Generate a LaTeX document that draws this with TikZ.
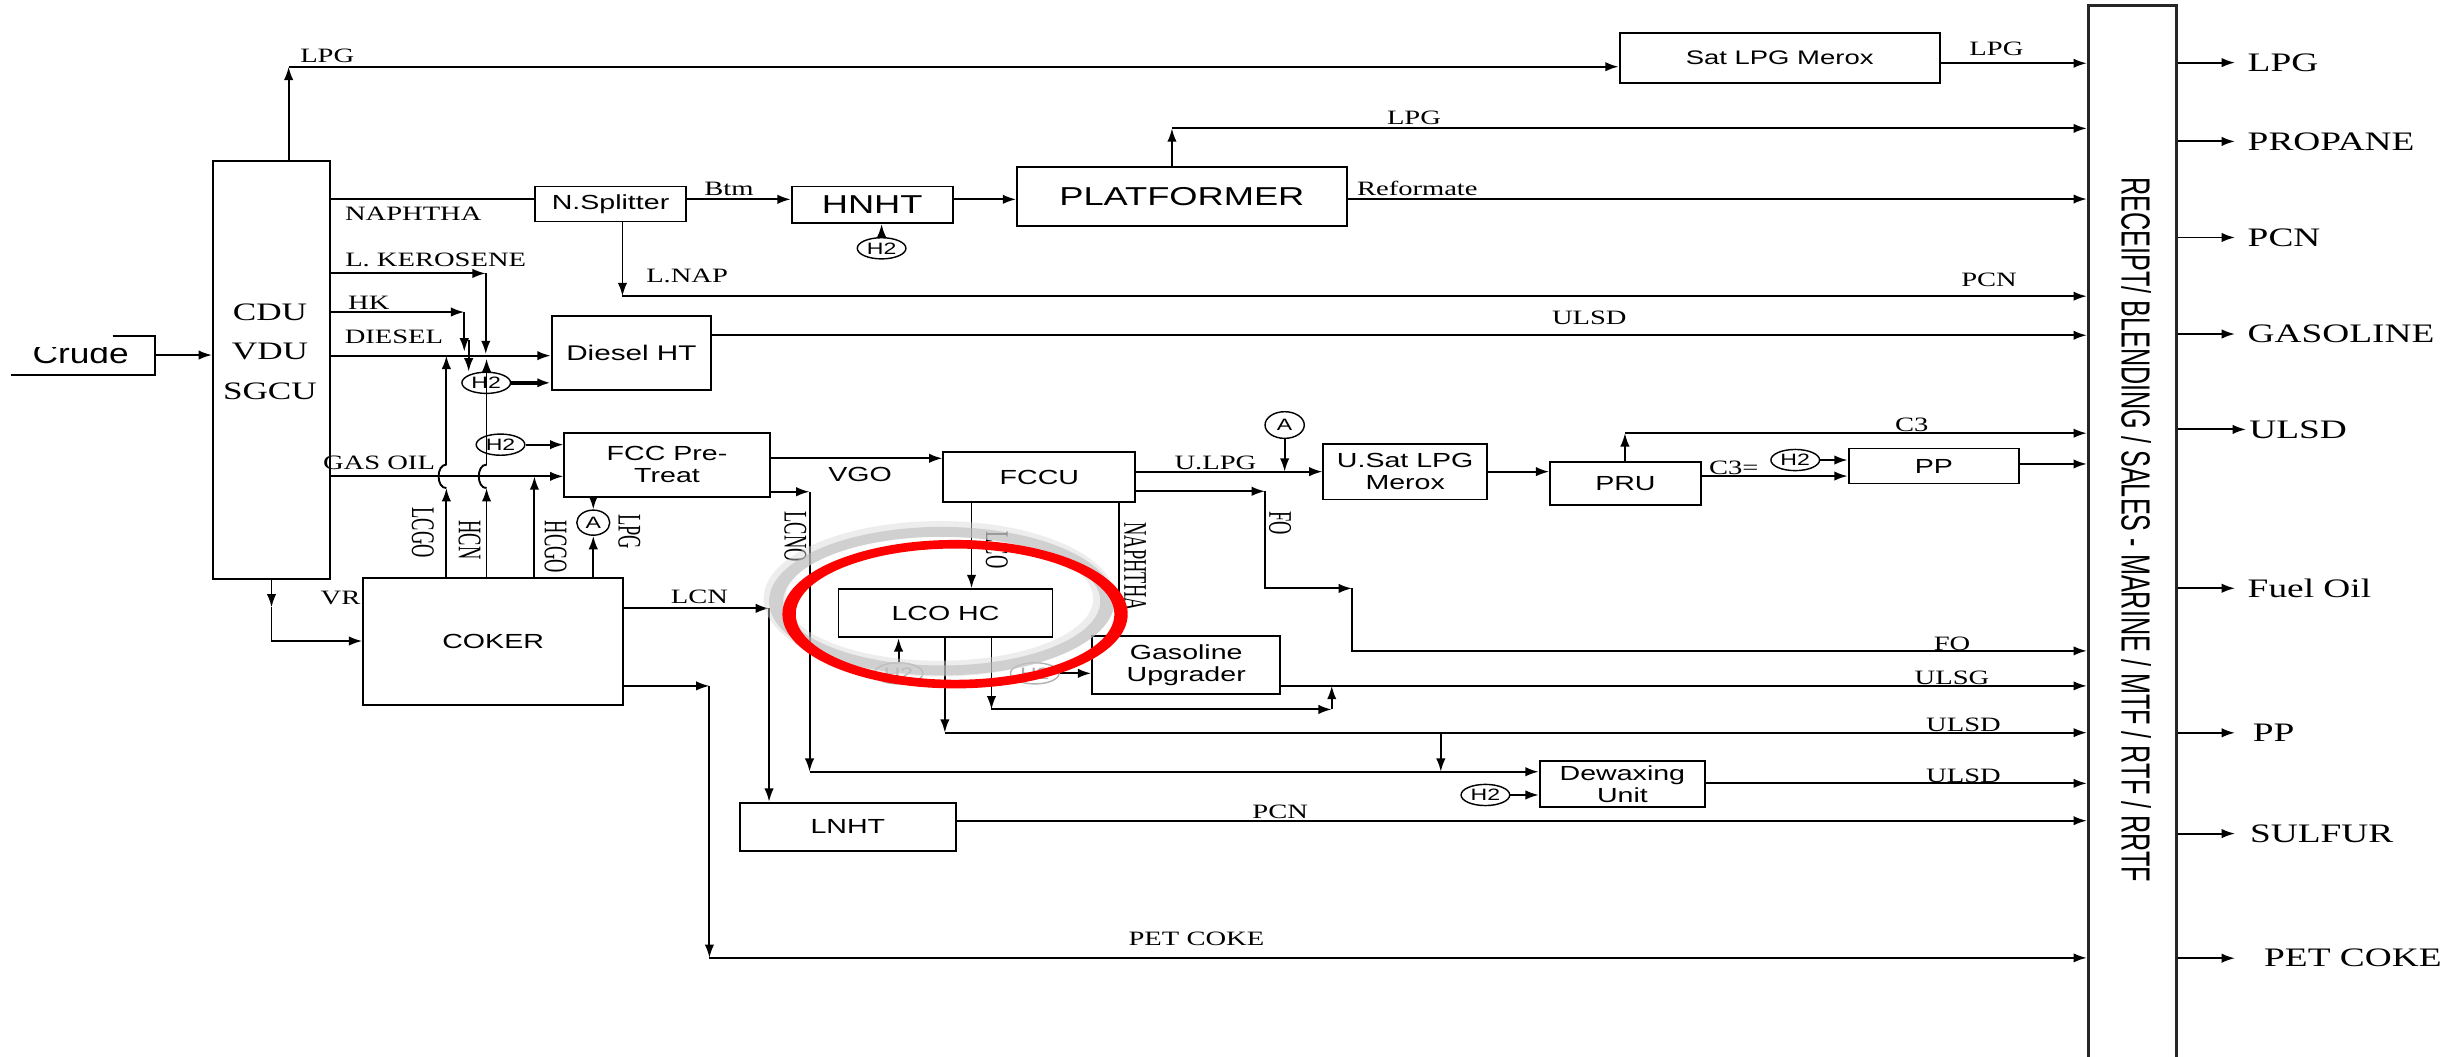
\documentclass[tikz,border=0pt]{standalone}
\usepackage{fontspec}
\usetikzlibrary{arrows.meta,shapes.geometric}
\newfontfamily\labf[FakeStretch=1.4]{Liberation Serif}
\newfontfamily\unitf[FakeStretch=1.4]{Liberation Sans}
\newfontfamily\rotf[FakeStretch=0.56]{Liberation Serif}
\newfontfamily\recf[FakeStretch=0.62]{Liberation Sans}
\newfontfamily\crudef[FakeStretch=1.25]{Liberation Sans}
\tikzset{
  unitbox/.style={draw, line width=1.2pt, inner sep=0pt, align=center, font=\unitf\fontsize{13}{14}\selectfont},
  lab/.style={inner sep=0pt, font=\labf\fontsize{13}{15}\selectfont},
  labsf/.style={inner sep=0pt, font=\unitf\fontsize{13}{15}\selectfont},
  rotlab/.style={inner sep=0pt, rotate=-90, font=\rotf\fontsize{21}{23}\selectfont},
  outlab/.style={inner sep=0pt, anchor=west, font=\labf\fontsize{17}{19}\selectfont},
  htwo/.style={draw, ellipse, line width=0.9pt, minimum width=31pt, minimum height=13.5pt, inner sep=0pt, font=\unitf\fontsize{10.5}{12}\selectfont},
  acirc/.style={draw, ellipse, line width=0.9pt, minimum width=21pt, minimum height=16pt, inner sep=0pt, font=\unitf\fontsize{10.5}{12}\selectfont},
  arr/.style={-{Latex[length=8.5pt,width=6pt]}},
}
\begin{document}
\begin{tikzpicture}[x=1pt,y=-1pt,line width=1.2pt]
\useasboundingbox (0,0) rectangle (1568,673);
\fill[white] (0,0) rectangle (1568,673);

% ---------- receipt column ----------
\node[draw, line width=1.8pt, draw=black!85, minimum width=56pt, minimum height=690pt, inner sep=0pt] (rec) at (1358.5,348.4) {};
\node[rotate=-90, inner sep=0pt, font=\recf\fontsize{25.9}{28}\selectfont] (rect) at (1361,337.5) {RECEIPT/ BLENDING / SALES - MARINE / MTF / RTF / RRTF};

% ---------- unit boxes ----------
\node[unitbox, minimum width=74.7pt, minimum height=266.3pt] (cdu) at (173,235.5) {};
\node[lab, font=\labf\fontsize{16}{25}\selectfont, align=center] (cdut) at (172,224) {CDU\\VDU\\SGCU};
\node[unitbox, minimum width=204pt, minimum height=31.5pt, font=\unitf\fontsize{12.5}{14}\selectfont] (sat) at (1133.9,37) {Sat LPG Merox};
\node[unitbox, minimum width=96.5pt, minimum height=22.3pt] (nsp) at (389,130) {N.Splitter};
\node[unitbox, minimum width=102.6pt, minimum height=23.3pt, font=\unitf\fontsize{16.5}{18}\selectfont] (hnht) at (555.7,130.5) {HNHT};
\node[unitbox, minimum width=210pt, minimum height=37.5pt, font=\unitf\fontsize{16.5}{18}\selectfont] (plat) at (753,125.3) {PLATFORMER};
\node[unitbox, minimum width=101.7pt, minimum height=47.2pt, font=\unitf\fontsize{13.5}{15}\selectfont] (dht) at (402.3,224.9) {Diesel HT};
\node[unitbox, minimum width=130.9pt, minimum height=40.8pt] (fcc) at (425,296.1) {FCC Pre-\\Treat};
\node[unitbox, minimum width=165.6pt, minimum height=81.3pt] (coker) at (314.2,408.7) {COKER};
\node[unitbox, minimum width=122.3pt, minimum height=31.8pt] (fccu) at (662.2,304.1) {FCCU};
\node[unitbox, minimum width=136.3pt, minimum height=30.7pt] (lcohc) at (602.4,390.7) {LCO HC};
\node[unitbox, minimum width=119.9pt, minimum height=37.2pt] (gu) at (755.8,423.8) {Gasoline\\Upgrader};
\node[unitbox, minimum width=137.9pt, minimum height=30.8pt] (lnht) at (540.2,526.8) {LNHT};
\node[unitbox, minimum width=104.2pt, minimum height=35.3pt] (usat) at (895.3,300.6) {U.Sat LPG\\Merox};
\node[unitbox, minimum width=95.9pt, minimum height=27.6pt] (pru) at (1035.6,308) {PRU};
\node[unitbox, minimum width=108.6pt, minimum height=22.3pt] (pp) at (1232.1,296.9) {PP};
\node[unitbox, minimum width=105.4pt, minimum height=29.1pt] (dew) at (1033.7,499.5) {Dewaxing\\Unit};

% ---------- H2 and A bubbles ----------
\node[htwo] (h2a) at (561.7,158.2) {H2};
\node[htwo] (h2b) at (309.8,243.9) {H2};
\node[htwo] (h2c) at (318.9,283.3) {H2};
\node[htwo, draw=gray!60, text=gray!65] (h2d) at (572.5,429) {H2};
\node[htwo, draw=gray!60, text=gray!65] (h2e) at (659.3,429) {H2};
\node[htwo] (h2f) at (1143.8,293.1) {H2};
\node[htwo] (h2g) at (946.4,506.5) {H2};
\node[acirc] (a1) at (378,333) {A};
\node[acirc, minimum width=25pt, minimum height=17pt] (a2) at (818.5,270.8) {A};

% ---------- crude ----------
\coordinate (crudeR) at (98.6,226.2);
\draw (71.7,213.9) -- (98.6,213.9) -- (98.6,238.9) -- (7.3,238.9);
\begin{scope}
  \clip (0,221.3) rectangle (97,238);
  \node[inner sep=0pt, anchor=base, font=\crudef\fontsize{18}{20}\selectfont] (crudet) at (51.4,231.5) {Crude};
\end{scope}
\draw[arr] (crudeR) -- (cdu.west |- crudeR);

% ---------- top LPG ----------
\coordinate (lpgc) at (183.9,42.5);
\draw[arr] (cdu.north -| lpgc) -- (lpgc);
\draw[arr] (lpgc) -- (sat.west |- lpgc);
\draw[arr] (sat.east |- 0,40.3) -- (rec.west |- 0,40.3);

% ---------- naphtha train ----------
\draw (cdu.east |- 0,127) -- (nsp.west |- 0,127);
\draw[arr] (nsp.east |- 0,127) -- (hnht.west |- 0,127);
\draw[arr] (hnht.east |- 0,127) -- (plat.west |- 0,127);
\draw[arr] (h2a.north) -- (hnht.south -| h2a.north);
\coordinate (platc) at (746.7,81.8);
\draw[arr] (plat.north -| platc) -- (platc);
\draw[arr] (platc) -- (rec.west |- platc);
\draw[arr] (plat.east |- 0,126.8) -- (rec.west |- 0,126.8);
\coordinate (lnapc) at (396.6,188.7);
\draw[arr] (nsp.south -| lnapc) -- (lnapc);
\draw[arr] (lnapc) -- (rec.west |- lnapc);

% ---------- kerosene / diesel ----------
\coordinate (lkc) at (309.5,174.2);
\coordinate (lkd) at (309.5,225.6);
\draw[arr] (cdu.east |- lkc) -- (lkc);
\draw[arr] (lkc) -- (lkd);
\coordinate (hkc) at (295.8,198.8);
\coordinate (hkd) at (295.8,224);
\draw[arr] (cdu.east |- hkc) -- (hkc);
\draw[arr] (hkc) -- (hkd);
\coordinate (hke) at (298.6,216.7);
\draw[arr] (hke) -- (hke |- h2b.north);
\draw[arr] (cdu.east |- 0,226.6) -- (dht.west |- 0,226.6);
\draw[arr, line width=2.2pt] (h2b.east) -- (dht.west |- h2b.east);
\draw[arr] (dht.east |- 0,213.6) -- (rec.west |- 0,213.6);

% ---------- gas oil / coker streams ----------
\draw[arr] (cdu.east |- 0,303.5) -- (fcc.west |- 0,303.5);
\draw[arr] (h2c.east) -- (fcc.west |- h2c.east);
\coordinate (lcgo1) at (284.4,311);
\coordinate (lcgo2) at (284.4,296);
\coordinate (lcgo3) at (284.4,226.6);
\draw[arr] (coker.north -| lcgo1) -- (lcgo1);
\draw (lcgo1) .. controls (277.8,311) and (277.8,296) .. (lcgo2);
\draw[arr] (lcgo2) -- (lcgo3);
\coordinate (hcn1) at (310,311);
\coordinate (hcn2) at (310,296);
\coordinate (hcn3) at (310,228.5);
\draw[arr] (coker.north -| hcn1) -- (hcn1);
\draw (hcn1) .. controls (303.4,311) and (303.4,296) .. (hcn2);
\draw[arr] (hcn2) -- (hcn3);
\coordinate (hcgo) at (340.5,303.5);
\draw[arr] (coker.north -| hcgo) -- (hcgo);
\draw[arr] (fcc.south -| a1.north) -- (a1.north);
\draw[arr] (coker.north -| a1.south) -- (a1.south);
\coordinate (vr1) at (173,387);
\coordinate (vr2) at (173,408.4);
\draw[arr] (cdu.south) -- (vr1);
\draw[arr] (vr1) -- (vr2) -- (coker.west |- vr2);

% ---------- FCC pretreat outputs ----------
\draw[arr] (fcc.east |- 0,292) -- (fccu.west |- 0,292);
\coordinate (lcno1) at (515.8,313.3);
\coordinate (lcno2) at (515.8,491.7);
\draw[arr] (fcc.east |- lcno1) -- (lcno1);
\draw[arr] (lcno1) -- (lcno2);
\draw[arr] (lcno2) -- (dew.west |- lcno2);
\coordinate (lcn1) at (490,387.6);
\draw[arr] (coker.east |- lcn1) -- (lcn1);
\draw[arr] (lcn1) -- (lnht.north -| lcn1);
\coordinate (pc1) at (452,437);
\coordinate (pc2) at (452,610.3);
\draw[arr] (coker.east |- pc1) -- (pc1);
\draw[arr] (pc1) -- (pc2);
\draw[arr] (pc2) -- (rec.west |- pc2);
\draw[arr] (lnht.east |- 0,522.9) -- (rec.west |- 0,522.9);

% ---------- FCCU ----------
\draw[arr] (fccu.east |- 0,300.5) -- (usat.west |- 0,300.5);
\draw[arr] (a2.south) -- (a2.south |- 0,300.5);
\coordinate (fo1) at (806,313);
\coordinate (fo2) at (806,374.9);
\coordinate (fo3) at (861.4,374.9);
\coordinate (fo4) at (861.4,414.7);
\draw[arr] (fccu.east |- fo1) -- (fo1);
\draw[arr] (fo1) -- (fo2) -- (fo3);
\draw[arr] (fo3) -- (fo4) -- (rec.west |- fo4);
\coordinate (lco) at (619,0);
\draw[arr] (fccu.south -| lco) -- (lcohc.north -| lco);
\coordinate (fnap) at (712.8,0);
\draw[arr] (fccu.south -| fnap) -- (gu.north -| fnap);
\draw[arr] (h2d.north) -- (lcohc.south -| h2d.north);
\draw[arr] (h2e.east) -- (gu.west |- h2e.east);
\coordinate (ul1) at (602,466.8);
\draw[arr] (lcohc.south -| ul1) -- (ul1);
\draw[arr] (ul1) -- (rec.west |- ul1);
\coordinate (br1) at (918,466.8);
\draw[arr] (br1) -- (br1 |- lcno2);
\coordinate (ug1) at (631.7,452);
\coordinate (ug2) at (848.5,452);
\draw[arr] (lcohc.south -| ug1) -- (ug1);
\draw[arr] (ug1) -- (ug2);
\draw[arr] (ug2) -- (ug2 |- 0,437);
\draw[arr] (gu.east |- 0,437) -- (rec.west |- 0,437);

% ---------- LPG / PP train ----------
\draw[arr] (usat.east |- 0,300.5) -- (pru.west |- 0,300.5);
\coordinate (c3c) at (1035.3,276);
\draw[arr] (pru.north -| c3c) -- (c3c);
\draw[arr] (c3c) -- (rec.west |- c3c);
\draw[arr] (pru.east |- 0,303.3) -- (pp.west |- 0,303.3);
\draw[arr] (h2f.east) -- (pp.west |- h2f.east);
\draw[arr] (pp.east |- 0,295.6) -- (rec.west |- 0,295.6);
\draw[arr] (h2g.east) -- (dew.west |- h2g.east);
\draw[arr] (dew.east |- 0,499.1) -- (rec.west |- 0,499.1);

% ---------- stream labels ----------
\node[lab] (lb1) at (208.5,35.7) {LPG};
\node[lab] (lb2) at (1272,30.8) {LPG};
\node[lab] (lb3) at (263.3,136.4) {NAPHTHA};
\node[lab] (lb4) at (464.5,120.4) {Btm};
\node[lab] (lb5) at (437.8,175.6) {L.NAP};
\node[lab] (lb6) at (900.9,74.8) {LPG};
\node[lab] (lb7) at (903,120) {Reformate};
\node[lab] (lb8) at (1267.3,178.4) {PCN};
\node[lab] (lb9) at (1012.6,202.8) {ULSD};
\node[lab] (lb10) at (277.6,165.7) {L. KEROSENE};
\node[lab] (lb11) at (235,193) {HK};
\node[lab] (lb12) at (251,214.5) {DIESEL};
\node[lab] (lb13) at (241.5,294.6) {GAS OIL};
\node[lab] (lb14) at (217,381) {VR};
\node[labsf] (lb15) at (548,302.2) {VGO};
\node[lab] (lb16) at (445.7,380.2) {LCN};
\node[lab] (lb17) at (774.4,295.2) {U.LPG};
\node[lab] (lb18) at (1218,270.4) {C3};
\node[lab] (lb19) at (1104.7,297.8) {C3=};
\node[lab] (lb20) at (1243.7,409.9) {FO};
\node[lab] (lb21) at (1243.7,431.8) {ULSG};
\node[lab] (lb22) at (1251,461.5) {ULSD};
\node[lab] (lb23) at (1251,494.4) {ULSD};
\node[lab] (lb24) at (815.7,517.2) {PCN};
\node[lab] (lb25) at (762.3,597.9) {PET COKE};
\node[rotlab] (rl1) at (269.5,339.3) {LCGO};
\node[rotlab] (rl2) at (299.2,344) {HCN};
\node[rotlab] (rl3) at (354,348.5) {HCGO};
\node[rotlab] (rl4) at (401,338.8) {LPG};
\node[rotlab] (rl5) at (506.8,342) {LCNO};
\node[rotlab] (rl6) at (635.2,350.4) {LCO};
\node[rotlab] (rl7) at (723.3,361) {NAPHTHA};
\node[rotlab] (rl8) at (815.6,333.4) {FO};

% ---------- product outputs ----------
\coordinate (o1) at (1424,39.9);
\coordinate (o2) at (1424,90.1);
\coordinate (o3) at (1424,151.3);
\coordinate (o4) at (1424,212.8);
\coordinate (o5) at (1431,273.6);
\coordinate (o6) at (1424,374.8);
\coordinate (o7) at (1424,466.9);
\coordinate (o8) at (1424,531.1);
\coordinate (o9) at (1424,610.5);
\foreach \k in {1,...,9}{\draw[arr] (rec.east |- o\k) -- (o\k);}
\node[outlab] (p1) at (1431.5,39.9) {LPG};
\node[outlab] (p2) at (1431.5,90.1) {PROPANE};
\node[outlab] (p3) at (1431.5,151.3) {PCN};
\node[outlab] (p4) at (1431.5,212.8) {GASOLINE};
\node[outlab] (p5) at (1432.5,273.6) {ULSD};
\node[outlab] (p6) at (1431.5,374.8) {Fuel Oil};
\node[outlab] (p7) at (1434.7,466.9) {PP};
\node[outlab] (p8) at (1433,531.1) {SULFUR};
\node[outlab] (p9) at (1442,610.5) {PET COKE};

% ---------- highlight ring ----------
\fill[gray!30, opacity=0.45, even odd rule] (598.5,381.5) ellipse [x radius=112, y radius=49.5] (598.5,381.5) ellipse [x radius=98, y radius=39.5];
\fill[gray!55, opacity=0.55, even odd rule] (600,383) ellipse [x radius=110, y radius=47.3] (600,383) ellipse [x radius=101, y radius=41];
\fill[red, even odd rule] (608.5,391.3) ellipse [x radius=110, y radius=47.3] (608.5,391.3) ellipse [x radius=101.5, y radius=41.8];
\end{tikzpicture}
\end{document}
